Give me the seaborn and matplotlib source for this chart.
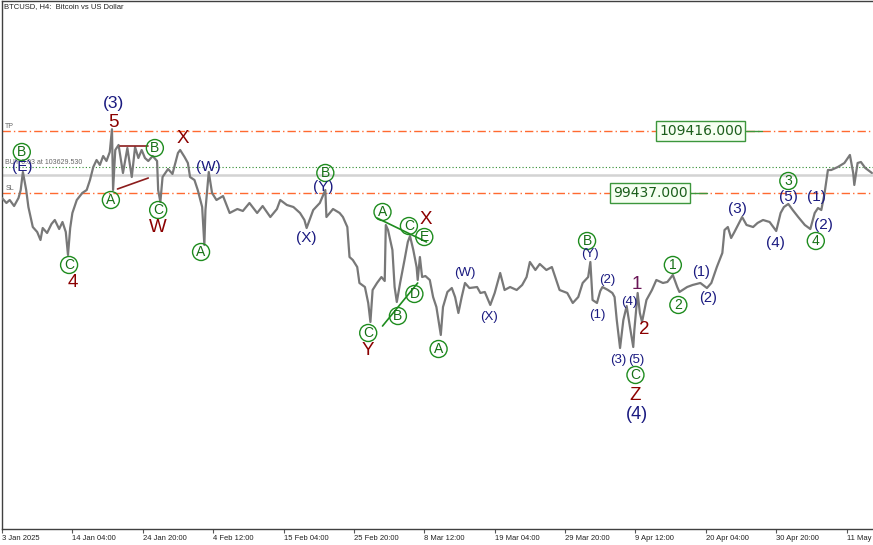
import matplotlib
matplotlib.use("Agg")
import matplotlib.pyplot as plt
import seaborn as sns

# BTCUSD H4 price path (bar index from left edge, price in USD)
bars = [0, 4, 7, 11, 15, 17, 19, 22, 24, 28,
        32, 35, 37, 41, 45, 48, 52, 55, 58, 60,
        62, 64, 68, 73, 77, 80, 83, 86, 89, 92,
        95, 98, 100, 101, 103, 106, 110, 114, 118, 121,
        124, 127, 130, 133, 137, 141, 142, 144, 146, 151,
        155, 160, 162, 166, 169, 171, 175, 178, 182, 184,
        185, 188, 191, 195, 201, 207, 214, 219, 225, 232,
        237, 244, 250, 253, 259, 265, 271, 275, 277, 283,
        289, 294, 295, 301, 307, 310, 314, 316, 319, 323,
        325, 330, 333, 335, 337, 341, 345, 348, 349, 351,
        355, 357, 359, 362, 366, 369, 371, 374, 377, 378,
        380, 382, 385, 389, 392, 395, 399, 401, 405, 409,
        412, 415, 418, 421, 425, 432, 435, 439, 444, 448,
        453, 457, 462, 468, 473, 477, 480, 485, 489, 495,
        500, 503, 507, 514, 519, 524, 528, 533, 535, 537,
        541, 544, 546, 551, 555, 557, 559, 562, 565, 568,
        571, 574, 575, 578, 580, 582, 586, 591, 595, 601,
        605, 610, 614, 616, 623, 628, 635, 641, 645, 650,
        655, 657, 660, 663, 666, 673, 677, 683, 687, 692,
        698, 704, 708, 711, 715, 719, 724, 730, 735, 739,
        742, 745, 748, 751, 754, 760, 766, 771, 774, 775,
        778, 781, 785, 791]
price = [98620, 97820, 98300, 97330, 98620, 99910, 102810, 99910, 97170, 93950,
         93150, 91860, 93790, 92990, 94440, 95080, 93630, 94760, 93150, 89450,
         93790, 96210, 98300, 99430, 99910, 101520, 103610, 104740, 103940, 105380,
         104580, 106030, 109700, 99910, 106350, 107160, 102650, 106670, 102000, 106830,
         105060, 106350, 105060, 104580, 105380, 104580, 99910, 97980, 102000, 103290,
         102490, 105870, 106350, 105220, 104260, 102000, 101520, 99910, 97170, 91060,
         96690, 102810, 99430, 98300, 98940, 96210, 96850, 96530, 97820, 96210,
         97330, 95560, 96850, 98300, 97500, 97170, 96210, 95080, 93790, 96690,
         97820, 99910, 95560, 96850, 96210, 95560, 93950, 89120, 88640, 87510,
         84940, 84290, 81720, 78660, 83810, 84940, 85900, 85260, 94280, 93470,
         90250, 84290, 81880, 84940, 88640, 91540, 92500, 90250, 87510, 85420,
         89120, 85900, 86060, 85420, 82680, 81070, 76570, 81070, 83490, 84130,
         82680, 80110, 82680, 84940, 84130, 84290, 83330, 83490, 81400, 83330,
         86550, 83810, 84290, 83810, 84620, 85900, 88320, 87030, 88000, 87030,
         87510, 85900, 83810, 83330, 81720, 82680, 84940, 85900, 88320, 82200,
         81720, 83650, 84290, 83810, 83330, 82680, 78980, 74470, 78980, 81230,
         77850, 74630, 77370, 83330, 80110, 78660, 82200, 83810, 85420, 84940,
         85100, 86230, 84290, 83490, 84290, 84620, 84940, 84130, 84940, 87510,
         89770, 93470, 93950, 92180, 93150, 95560, 94280, 93950, 94600, 95080,
         94760, 93310, 96210, 97170, 97660, 96690, 95560, 94280, 93630, 96210,
         97010, 96690, 99430, 103130, 103130, 103610, 104260, 105550, 102650, 100720,
         104260, 104420, 103450, 102650]

tick_bars = [0, 64, 128, 192, 256, 320, 384, 448, 512, 576, 640, 704, 768]
tick_labels = ["3 Jan 2025", "14 Jan 04:00", "24 Jan 20:00", "4 Feb 12:00",
               "15 Feb 04:00", "25 Feb 20:00", "8 Mar 12:00", "19 Mar 04:00",
               "29 Mar 20:00", "9 Apr 12:00", "20 Apr 04:00", "30 Apr 20:00", "11 May"]

tp_price = 109416.0
sl_price = 99437.0
buy_price = 103629.53
bid_price = 102330.0

# price boxes: centre bar and the little stub to the right
box_text = ["109416.000", "99437.000"]
box_price = [tp_price, sl_price]
box_bar = [635.5, 589.5]
stub_start = [676, 626]
stub_end = [691, 641]

# wave counts
navy_text = ["(3)", "(E)", "(W)", "(X)", "(Y)", "(W)", "(X)", "(Y)", "(1)", "(2)", "(4)",
             "(3)", "(5)", "(4)", "(1)", "(2)", "(3)", "(4)", "(5)", "(1)", "(2)"]
navy_bar = [101, 18, 188, 277, 292, 421, 443, 535, 541, 550, 570,
            560, 577, 577, 636, 642, 669, 703, 715, 741, 747]
navy_price = [113900, 103610, 103610, 92180, 100390, 86550, 79460, 89610, 79790, 85420, 81880,
              72540, 72540, 63690, 86710, 82520, 96850, 91380, 98780, 98780, 94280]
navy_size = [12.5, 11, 11, 11, 11, 9.5, 9.5, 9.5, 9.5, 9.5, 9.5,
             9.5, 9.5, 13, 10.5, 10.5, 11, 11, 11, 11, 11]

red_text = ["5", "4", "W", "X", "Y", "X", "Z", "2", "1"]
red_bar = [101, 64, 142, 164, 333, 385, 576, 584, 577]
red_price = [110700, 84940, 93950, 108280, 73990, 95240, 66900, 77370, 84620]
red_color = ["#8b0000"] * 8 + ["#6a1656"]

circ_text = ["B", "C", "A", "B", "C", "A", "B", "A", "C", "E",
             "D", "B", "C", "A", "B", "C", "1", "2", "3", "4"]
circ_bar = [18, 61, 99, 139, 142, 181, 294, 346, 370, 384,
            375, 360, 333, 397, 532, 576, 610, 615, 715, 740]
circ_price = [106030, 87840, 98300, 106670, 96690, 89930, 102650, 96370, 94110, 92340,
              83170, 79620, 76890, 74310, 91700, 70130, 87840, 81400, 101360, 91700]

# trend lines drawn on the chart
red_line_bars = [[107, 133], [105, 133]]
red_line_prices = [[106990, 106990], [100070, 101840]]
green_line_bars = [[341, 386], [346, 378]]
green_line_prices = [[95400, 91540], [78010, 84940]]

sns.set_theme(style="white")
plt.rcParams['font.family'] = ['Liberation Sans', 'DejaVu Sans']

fig = plt.figure(figsize=(8.73, 5.45), dpi=100)
ax = fig.add_axes([2 / 873, 16 / 545, 871 / 873, 528 / 545])

sns.lineplot(x=bars, y=price, ax=ax, color="#787878", linewidth=1.6,
             sort=False, estimator=None, zorder=3)

# order levels
ax.axhline(tp_price, color="#ff6a30", lw=1.0, dashes=(6, 2.2, 1, 2.2), zorder=2)
ax.axhline(sl_price, color="#ff6a30", lw=1.0, dashes=(6, 2.2, 1, 2.2), zorder=2)
ax.axhline(buy_price, color="#2e8b2e", lw=0.8, ls=(0, (1, 2)), zorder=2)
ax.axhline(bid_price, color="#d3d3d3", lw=1.8, zorder=1)
ax.text(3, tp_price + 200, "TP", fontsize=5, color="#666666", va="bottom")
ax.text(3, sl_price + 200, "SL", fontsize=5, color="#666666", va="bottom")
ax.text(3, buy_price + 200, "BUY 0.03 at 103629.530", fontsize=5, color="#666666", va="bottom")

for t, b, p, s0, s1 in zip(box_text, box_bar, box_price, stub_start, stub_end):
    ax.plot([s0, s1], [p, p], color="#3c963c", lw=1.0, zorder=5)
    ax.text(b, p, t, ha="center", va="center", fontsize=10, color="#1b5e1b",
            family="DejaVu Sans", zorder=6,
            bbox=dict(boxstyle="square,pad=0.2", fc="#f6fff2", ec="#3c963c", lw=1.0))

for xs, ys in zip(red_line_bars, red_line_prices):
    ax.plot(xs, ys, color="#8b1c1c", lw=1.2, zorder=4)
for xs, ys in zip(green_line_bars, green_line_prices):
    ax.plot(xs, ys, color="#1e8c1e", lw=1.2, zorder=4)

for t, b, p, s in zip(navy_text, navy_bar, navy_price, navy_size):
    ax.text(b, p, t, ha="center", va="center", fontsize=s, color="#1a1a80", zorder=6)
for t, b, p, c in zip(red_text, red_bar, red_price, red_color):
    ax.text(b, p, t, ha="center", va="center", fontsize=13.5, color=c, zorder=6)

ax.scatter(circ_bar, circ_price, s=150, facecolors="none", edgecolors="#1e8c1e",
           linewidths=1.0, zorder=5)
for t, b, p in zip(circ_text, circ_bar, circ_price):
    ax.text(b, p, t, ha="center", va="center", fontsize=10, color="#167016", zorder=6)

ax.set_xlim(0, 792)
ax.set_ylim(45330, 130340)
ax.set_yticks([])
ax.set_xticks(tick_bars)
ax.set_xticklabels(tick_labels, ha="left")
ax.tick_params(axis="x", direction="out", length=3, width=0.8, color="#555555",
               labelcolor="#222222", labelsize=5.5, pad=1.5, bottom=True)
ax.set_xlabel("")
ax.set_ylabel("")
ax.spines['right'].set_visible(False)
for side in ['top', 'left', 'bottom']:
    ax.spines[side].set_color("#404040")
    ax.spines[side].set_linewidth(1.0)

ax.text(0.002, 0.9886, "BTCUSD, H4:  Bitcoin vs US Dollar", transform=ax.transAxes,
        fontsize=5.5, color="#222222", va="center")

fig.savefig("out.png", dpi=100)
